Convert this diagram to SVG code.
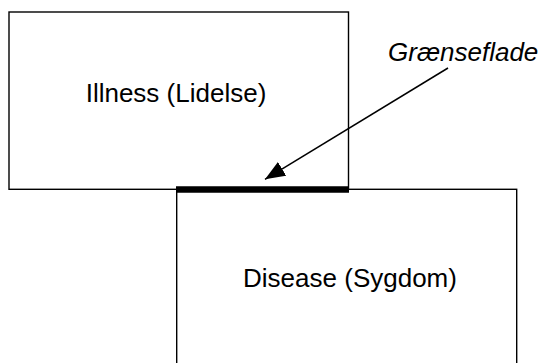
<svg xmlns="http://www.w3.org/2000/svg" width="544" height="363" viewBox="0 0 544 363">
  <style>
    .box { fill: none; stroke: #000; stroke-width: 1.4; }
    .lbl { font-family: "Liberation Sans", Arial, sans-serif; font-size: 26px; fill: #000; text-anchor: middle; }
    .it { font-family: "Liberation Sans", Arial, sans-serif; font-size: 26px; font-style: italic; fill: #000; }
  </style>
  <defs>
    <marker id="ah" markerUnits="userSpaceOnUse" markerWidth="22" markerHeight="16" refX="20" refY="8" orient="auto">
      <path d="M0,0 L20,8 L0,16 z" fill="#000"/>
    </marker>
  </defs>
  <rect width="544" height="363" fill="#fff"/>
  <g id="illness">
    <rect class="box" x="9" y="12" width="339.5" height="177.3"/>
    <text class="lbl" x="176" y="102">Illness (Lidelse)</text>
  </g>
  <g id="disease">
    <rect class="box" x="176.7" y="189.3" width="340" height="200"/>
    <text class="lbl" x="350" y="287">Disease (Sygdom)</text>
  </g>
  <g id="interface">
    <line x1="176" y1="189.4" x2="349" y2="189.4" stroke="#000" stroke-width="6.5"/>
    <text class="it" x="388" y="61">Grænseflade</text>
  </g>
  <g id="connectors">
    <line x1="448" y1="68" x2="265" y2="179.3" stroke="#000" stroke-width="1.5" marker-end="url(#ah)"/>
  </g>
</svg>
